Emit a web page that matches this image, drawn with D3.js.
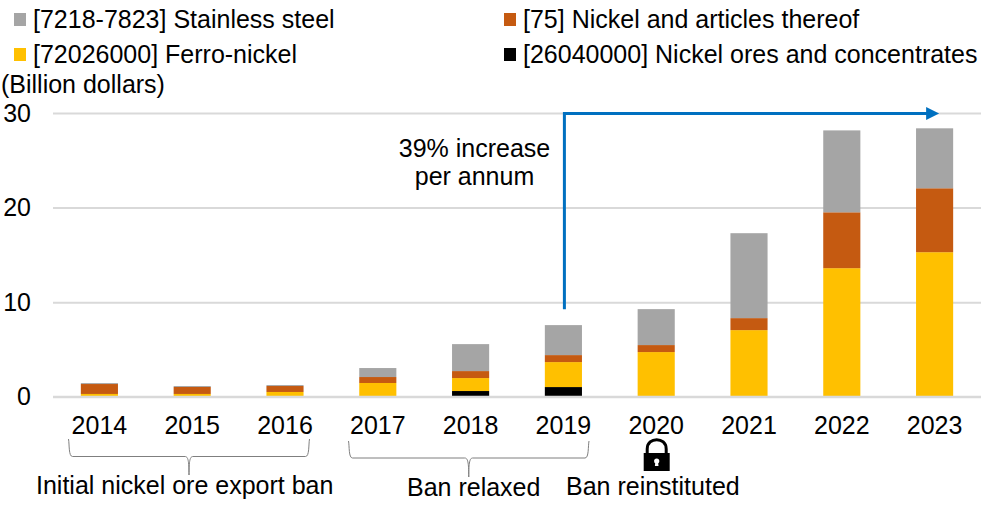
<!DOCTYPE html>
<html>
<head>
<meta charset="utf-8">
<script src="https://cdn.jsdelivr.net/npm/d3@7"></script>
<style>
  html, body { margin: 0; padding: 0; background: #fff; }
  svg { display: block; }
  text { font-family: "Liberation Sans", Arial, sans-serif; font-size: 25px; fill: #000; }
</style>
</head>
<body>
<div id="chart"></div>
<script>
const years = ['2014', '2015', '2016', '2017', '2018', '2019', '2020', '2021', '2022', '2023']

// billion dollars
const ores = [0, 0, 0, 0, 0.6, 1.02, 0, 0, 0, 0]
const ferro = [0.29, 0.29, 0.5, 1.45, 1.37, 2.64, 4.72, 7.04, 13.59, 15.28]
const nickel = [1.05, 0.74, 0.63, 0.63, 0.74, 0.74, 0.74, 1.27, 5.91, 6.76]
const steel = [0.1, 0.1, 0.1, 0.95, 2.85, 3.17, 3.8, 8.98, 8.66, 6.34]

const seriesNames = ['ores', 'ferro', 'nickel', 'steel']
const seriesValues = [ores, ferro, nickel, steel]
const seriesColors = ['#000000', '#FFC000', '#C55A11', '#A5A5A5']
const yTicks = [0, 10, 20, 30]

const legendLabels = [
  '[7218-7823] Stainless steel',
  '[75] Nickel and articles thereof',
  '[72026000] Ferro-nickel',
  '[26040000] Nickel ores and concentrates'
]
const legendColors = ['#A5A5A5', '#C55A11', '#FFC000', '#000000']

const fullWidth = 981,
  fullHeight = 508,
  margin = { top: 113, right: 0, bottom: 111.3, left: 53 },
  width = fullWidth - margin.left - margin.right,
  height = fullHeight - margin.top - margin.bottom

const root = d3.select('#chart')
  .append('svg')
    .attr('width', fullWidth)
    .attr('height', fullHeight)

const svg = root.append('g')
  .attr('transform', `translate(${margin.left}, ${margin.top})`)

const xScale = d3.scaleBand()
  .domain(years)
  .range([0, width])
  .paddingInner(0.6)
  .paddingOuter(0.3)

const yScale = d3.scaleLinear()
  .domain([0, 30])
  .range([height, 0])

// gridlines and labels
const yAxis = svg.append('g')
  .call(d3.axisLeft(yScale).tickValues(yTicks).tickSize(-width).tickPadding(22).tickFormat(d3.format('d')))
yAxis.select('.domain').remove()
yAxis.selectAll('line')
  .attr('stroke', '#D9D9D9')
  .attr('stroke-width', 2)

// stacked bars
const table = years.map((year, i) => {
  const row = { year }
  seriesNames.forEach((name, s) => { row[name] = seriesValues[s][i] })
  return row
})
const stacked = d3.stack().keys(seriesNames)(table)

svg.selectAll('.layer')
  .data(stacked)
  .enter()
  .append('g')
    .attr('class', 'layer')
    .attr('fill', (d, i) => seriesColors[i])
  .selectAll('rect')
  .data(d => d)
  .enter()
  .append('rect')
    .attr('x', d => xScale(d.data.year))
    .attr('width', xScale.bandwidth())
    .attr('y', d => yScale(d[1]))
    .attr('height', d => yScale(d[0]) - yScale(d[1]))

// baseline goes over the bars
svg.append('line')
  .attr('x1', 0)
  .attr('x2', width)
  .attr('y1', yScale(0))
  .attr('y2', yScale(0))
  .attr('stroke', '#D9D9D9')
  .attr('stroke-width', 2)

const xAxis = svg.append('g')
  .attr('transform', `translate(0, ${height})`)
  .call(d3.axisBottom(xScale).tickSize(0).tickPadding(20))
xAxis.select('.domain').remove()

// legend
const legendX = [14, 504]
const legendY = [13, 48]
legendLabels.forEach((label, i) => {
  const lx = legendX[i % 2],
    ly = legendY[Math.floor(i / 2)]
  root.append('rect')
    .attr('x', lx)
    .attr('y', ly)
    .attr('width', 12)
    .attr('height', 13)
    .attr('fill', legendColors[i])
  root.append('text')
    .attr('x', lx + 19)
    .attr('y', ly + 15)
    .text(label)
})

root.append('text')
  .attr('x', 1)
  .attr('y', 93)
  .text('(Billion dollars)')

// growth arrow
const arrowX = xScale('2019') + xScale.bandwidth() / 2 + margin.left + 1
const arrowEnd = xScale('2023') + xScale.bandwidth() / 2 + margin.left + 4.5
const arrowTop = yScale(30) + margin.top + 0.5
const arrowBottom = yScale(9.26) + margin.top
root.append('path')
  .attr('d', `M${arrowX},${arrowBottom}V${arrowTop}H${arrowEnd - 12}`)
  .attr('fill', 'none')
  .attr('stroke', '#0070C0')
  .attr('stroke-width', 3)
root.append('path')
  .attr('d', `M${arrowEnd},${arrowTop}l-13,-6.5v13z`)
  .attr('fill', '#0070C0')

root.append('text').attr('x', 474.5).attr('y', 157).attr('text-anchor', 'middle').text('39% increase')
root.append('text').attr('x', 474.5).attr('y', 185).attr('text-anchor', 'middle').text('per annum')

// braces under the year labels
const brace = (x0, x1, top, mid, tip) => {
  const c = (x0 + x1) / 2
  return `M${x0},${top}C${x0 + 1},${mid - 12} ${x0},${mid} ${x0 + 4},${mid}` +
    `H${c - 4}C${c - 1},${mid} ${c},${mid + 4} ${c},${tip}` +
    `C${c},${mid + 4} ${c + 1},${mid} ${c + 4},${mid}` +
    `H${x1 - 4}C${x1},${mid} ${x1 - 1},${mid - 12} ${x1},${top}`
}
root.append('path')
  .attr('d', brace(68.5, 309.5, 439, 456.5, 475))
  .attr('fill', 'none')
  .attr('stroke', '#7F7F7F')
root.append('path')
  .attr('d', brace(348.5, 589, 441, 458, 477))
  .attr('fill', 'none')
  .attr('stroke', '#7F7F7F')

root.append('text').attr('x', 36).attr('y', 494).text('Initial nickel ore export ban')
root.append('text').attr('x', 407).attr('y', 496).text('Ban relaxed')
root.append('text').attr('x', 566).attr('y', 495).text('Ban reinstituted')

// lock icon under 2020
const lock = root.append('g')
  .attr('transform', `translate(${xScale('2020') + xScale.bandwidth() / 2 + margin.left + 0.5}, 0)`)
lock.append('path')
  .attr('d', 'M-9.5,454V449C-9.5,436.5 9.5,436.5 9.5,449V454')
  .attr('fill', 'none')
  .attr('stroke', '#000')
  .attr('stroke-width', 3)
lock.append('rect')
  .attr('x', -13)
  .attr('y', 453)
  .attr('width', 26)
  .attr('height', 18)
  .attr('fill', '#000')
lock.append('circle')
  .attr('cy', 461)
  .attr('r', 2.6)
  .attr('fill', '#fff')
lock.append('path')
  .attr('d', 'M-1.2,461L-1.8,466H1.8L1.2,461z')
  .attr('fill', '#fff')
</script>
</body>
</html>
